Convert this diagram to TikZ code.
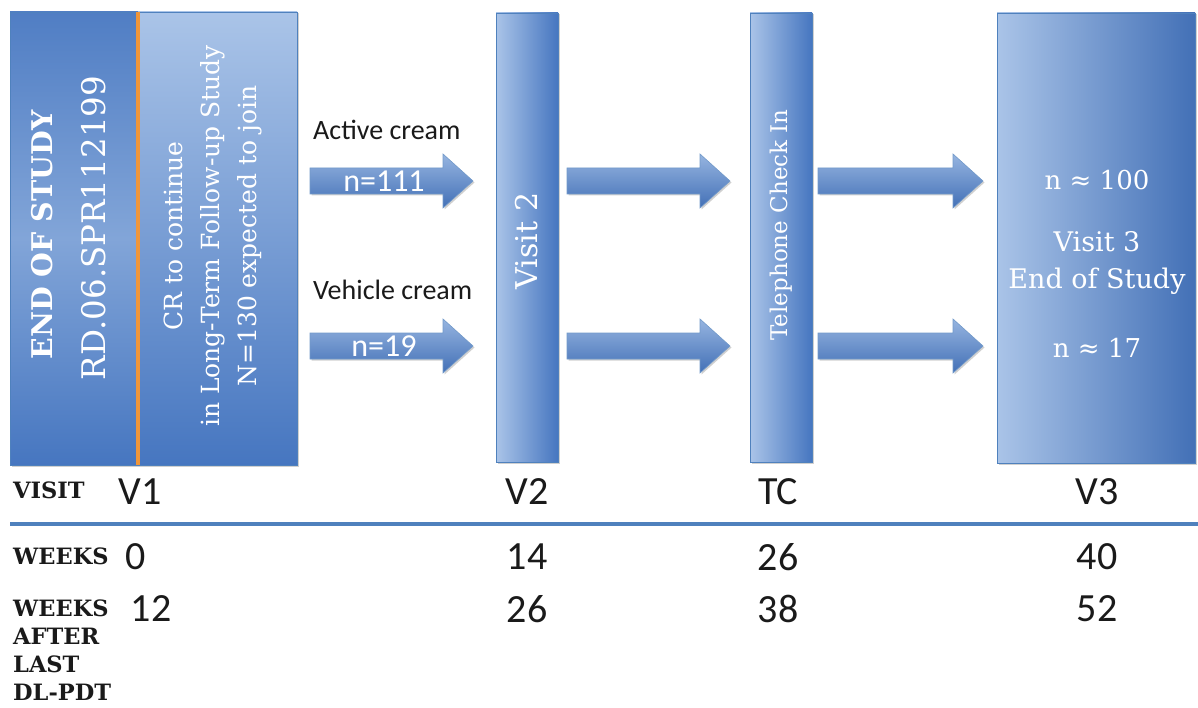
\documentclass[tikz,border=0pt]{standalone}
\usepackage{fontspec}
\usetikzlibrary{shadows}
\newfontfamily\serifc{DejaVu Serif}
\newfontfamily\calib{Carlito}
\definecolor{boxedge}{HTML}{4F81BD}
\definecolor{darkb}{HTML}{4676C0}
\definecolor{midb}{HTML}{82A5D8}
\definecolor{lightb}{HTML}{AAC4E8}
\definecolor{orangeln}{HTML}{F0963A}
\definecolor{txt}{HTML}{1A1A1A}
\tikzset{
  shad/.style={drop shadow={shadow xshift=1.5pt, shadow yshift=-1.5pt, opacity=.3, fill=black!60}},
  panel/.style={rectangle, draw=boxedge, line width=0.8pt, inner sep=0pt, shad},
  hbar/.style={panel, left color=lightb, right color=darkb},
  wtext/.style={text=white, inner sep=0pt},
  arrowfill/.style={top color=lightb!80!darkb, bottom color=darkb!95!black, draw=boxedge!80!white, line width=0.6pt, shad},
  caltext/.style={font=\calib\fontsize{40}{44}\selectfont, text=txt, inner sep=0pt},
  lbl/.style={font=\serifc\bfseries\fontsize{22.5}{26}\selectfont, text=txt, inner sep=0pt, anchor=west},
}
\newcommand\blockarrow[3]{%
  \path[arrowfill] (#1,#3-13) -- (#2-30,#3-13) -- (#2-30,#3-27) -- (#2,#3)
    -- (#2-30,#3+27) -- (#2-30,#3+13) -- (#1,#3+13) -- cycle;}
\begin{document}
\begin{tikzpicture}[x=1pt, y=-1pt]
\useasboundingbox[fill=white] (0,0) rectangle (1198,708);

% left block
\node[panel, minimum width=128pt, minimum height=453pt, top color=darkb!90!lightb, bottom color=darkb, middle color=midb] (eosA) at (74,238.5) {};
\node[panel, minimum width=159pt, minimum height=453pt, top color=lightb, bottom color=darkb] (eosB) at (217.5,238.5) {};
\draw[orangeln, line width=4pt] (eosA.north east) -- (eosA.south east);
\node[wtext, rotate=90, font=\serifc\bfseries\fontsize{28.5}{32}\selectfont] (eos1) at (42,235) {END OF STUDY};
\node[wtext, rotate=90, font=\serifc\fontsize{32.5}{36}\selectfont] (eos2) at (94,228) {RD.06.SPR112199};
\node[wtext, rotate=90, align=center, font=\serifc\fontsize{25}{37}\selectfont] (cr) at (213,236) {CR to continue\\in Long-Term Follow-up Study\\N=130 expected to join};

% bars
\node[hbar, minimum width=62pt, minimum height=449pt] (v2bar) at (527,237.5) {};
\node[wtext, rotate=90, font=\serifc\fontsize{30}{34}\selectfont] (v2t) at (527,241) {Visit 2};
\node[hbar, minimum width=62pt, minimum height=449pt] (tcbar) at (781,237.5) {};
\node[wtext, rotate=90, font=\serifc\fontsize{23}{26}\selectfont] (tct) at (781,225) {Telephone Check In};

% V3 box
\node[panel, minimum width=198pt, minimum height=450pt, left color=lightb, middle color=midb!90!darkb, right color=darkb!95!black] (v3box) at (1096,238) {};
\node[wtext, font=\serifc\fontsize{26}{30}\selectfont] (v3a) at (1097,180) {n ≈ 100};
\node[wtext, font=\serifc\fontsize{27}{37}\selectfont, align=center] (v3b) at (1097,263) {Visit 3\\End of Study};
\node[wtext, font=\serifc\fontsize{26}{30}\selectfont] (v3c) at (1097,348) {n ≈ 17};

% arrows
\blockarrow{310}{473}{181}
\blockarrow{310}{473}{346}
\blockarrow{567}{730}{181}
\blockarrow{567}{730}{346}
\blockarrow{818}{983}{181}
\blockarrow{818}{983}{346}
\node[wtext, font=\calib\fontsize{32}{36}\selectfont] (a1t) at (384,181) {n=111};
\node[wtext, font=\calib\fontsize{32}{36}\selectfont] (a2t) at (384,346) {n=19};
\node[inner sep=0pt, anchor=west, text=txt, font=\calib\fontsize{28}{32}\selectfont] (act) at (313,130) {Active cream};
\node[inner sep=0pt, anchor=west, text=txt, font=\calib\fontsize{28}{32}\selectfont] (veh) at (313,290) {Vehicle cream};

% timeline
\coordinate (rl) at (10,524);
\coordinate (rr) at (1198,524);
\draw[boxedge, line width=4pt, shad] (rl) -- (rr);

\node[lbl] (visit) at (13,490) {VISIT};
\node[caltext] (v1) at (140,492) {V1};
\node[caltext] (v2) at (527,492) {V2};
\node[caltext] (tc) at (778,492) {TC};
\node[caltext] (v3) at (1097,492) {V3};

\node[lbl] (wk) at (13,556) {WEEKS};
\node[caltext] (w0) at (136,557) {0};
\node[caltext] (w14) at (527,557) {14};
\node[caltext] (w26) at (778,557) {26};
\node[caltext] (w40) at (1097,557) {40};

\node[lbl] (wa1) at (13,608) {WEEKS};
\node[lbl] (wa2) at (13,636) {AFTER};
\node[lbl] (wa3) at (13,664) {LAST};
\node[lbl] (wa4) at (13,692) {DL-PDT};
\node[caltext] (x12) at (151,609) {12};
\node[caltext] (x26) at (527,609) {26};
\node[caltext] (x38) at (778,609) {38};
\node[caltext] (x52) at (1097,609) {52};
\end{tikzpicture}
\end{document}
